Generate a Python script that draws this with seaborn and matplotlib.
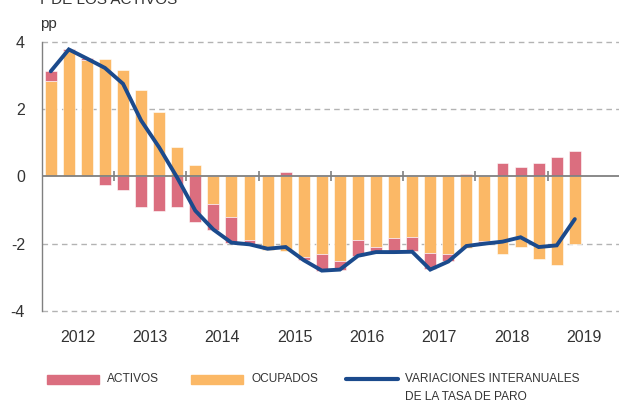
import numpy as np
import pandas as pd
import matplotlib
matplotlib.use("Agg")
import matplotlib.pyplot as plt
import seaborn as sns
from matplotlib.patches import Rectangle
from matplotlib.lines import Line2D

# ---------------- data ----------------
years = ["2012", "2013", "2014", "2015", "2016", "2017", "2018", "2019"]
quarters = [f"{y}-T{q}" for y in years for q in range(1, 5)][:30]

ocupados = [2.84, 3.72, 3.47, 3.49, 3.15, 2.58, 1.90, 0.88,
            0.34, -0.83, -1.20, -1.90, -2.20, -2.23, -2.39, -2.31,
            -2.52, -1.89, -2.11, -1.82, -1.80, -2.27, -2.30, -2.14,
            -1.92, -2.32, -2.09, -2.47, -2.62, -2.00]
activos = [0.28, 0.05, 0.04, -0.27, -0.42, -0.92, -1.04, -0.92,
           -1.36, -0.75, -0.77, -0.12, 0.05, 0.13, -0.10, -0.50,
           -0.25, -0.47, -0.12, -0.41, -0.43, -0.49, -0.22, 0.08,
           -0.07, 0.39, 0.28, 0.39, 0.57, 0.74]
tasa_paro = [3.12, 3.77, 3.50, 3.22, 2.75, 1.66, 0.86, -0.04,
             -1.02, -1.58, -1.97, -2.02, -2.15, -2.10, -2.49, -2.80,
             -2.77, -2.36, -2.25, -2.25, -2.24, -2.77, -2.53, -2.07,
             -2.00, -1.94, -1.81, -2.10, -2.05, -1.27]

C_ACT = "#DB6E7F"
C_OCU = "#FBB866"
C_LINE = "#1B4A8C"
C_TXT = "#333333"
C_GRID = "#B3B3B3"

sns.set_theme(style="white")
plt.rcParams["font.family"] = ["Liberation Sans", "DejaVu Sans"]

df = pd.DataFrame({"q": quarters, "ocupados": ocupados,
                   "activos": activos, "paro": tasa_paro})
df["pos"] = np.arange(len(df))
same_sign = np.sign(df["activos"]) == np.sign(df["ocupados"])
df["act_bottom"] = np.where(same_sign, df["ocupados"], 0.0)

fig = plt.figure(figsize=(6.19, 4.03), dpi=100)
ax = fig.add_axes([41.7 / 619, 1 - 311 / 403, 578.3 / 619, 269.3 / 403])

# grid lines (behind)
for yv in [-4, -2, 2, 4]:
    ax.axhline(yv, color=C_GRID, lw=1.0, ls=(0, (4, 3)), zorder=0, clip_on=False)

BW = 0.66
sns.barplot(data=df, x="pos", y="ocupados", native_scale=True, width=BW,
            color=C_OCU, saturation=1, edgecolor="white", linewidth=0.4,
            ax=ax, zorder=2, errorbar=None)
ax.bar(df["pos"], df["activos"], bottom=df["act_bottom"], width=BW,
       color=C_ACT, edgecolor="white", linewidth=0.4, zorder=2)

# zero line and year separators
ax.axhline(0, color="#808080", lw=1.3, zorder=3)
ny = len(years)
bounds = np.arange(1, ny) * 4 - 0.5
ax.vlines(bounds, -0.15, 0.15, color="#808080", lw=1.2, zorder=3)

sns.lineplot(data=df, x="pos", y="paro", color=C_LINE, lw=2.8, ax=ax,
             zorder=4, solid_joinstyle="miter")

ax.set_xlim(-0.5, ny * 4 - 0.5)
ax.set_ylim(-4, 4)
ax.set_xticks(np.arange(ny) * 4 + 1.5)
ax.set_xticklabels(years)
ax.set_yticks([-4, -2, 0, 2, 4])
ax.set_yticklabels(["-4", "-2", "0", "2", "4"])
ax.tick_params(axis="both", length=0, labelsize=11.5, labelcolor=C_TXT)
ax.tick_params(axis="x", pad=14)
ax.tick_params(axis="y", pad=12)
ax.set_xlabel("")
ax.set_ylabel("")
for s in ["top", "right", "bottom"]:
    ax.spines[s].set_visible(False)
ax.spines["left"].set_color("#808080")
ax.spines["left"].set_linewidth(1.0)
ax.set_facecolor("none")

# texts
fig.text(37 / 619, 1 - 4 / 403, "Y DE LOS ACTIVOS", fontsize=11, color=C_TXT,
         ha="left", va="baseline")
fig.text(40.5 / 619, 1 - 28 / 403, "pp", fontsize=11, color=C_TXT,
         ha="left", va="baseline")

# legend (manual layout)
W, H = 619, 403
yc = 379
LFS = 8.6
fig.patches.append(Rectangle((46.5 / W, 1 - (yc + 4.5) / H), 52 / W, 9 / H,
                             transform=fig.transFigure, color=C_ACT))
fig.text(106.5 / W, 1 - yc / H, "ACTIVOS", fontsize=LFS, color=C_TXT,
         ha="left", va="center")
fig.patches.append(Rectangle((190.5 / W, 1 - (yc + 4.5) / H), 52 / W, 9 / H,
                             transform=fig.transFigure, color=C_OCU))
fig.text(251 / W, 1 - yc / H, "OCUPADOS", fontsize=LFS, color=C_TXT,
         ha="left", va="center")
fig.lines.append(Line2D([345.5 / W, 397.5 / W], [1 - yc / H, 1 - yc / H],
                        transform=fig.transFigure, color=C_LINE, lw=3))
fig.text(405 / W, 1 - yc / H, "VARIACIONES INTERANUALES", fontsize=LFS,
         color=C_TXT, ha="left", va="center")
fig.text(405 / W, 1 - 397 / H, "DE LA TASA DE PARO", fontsize=LFS,
         color=C_TXT, ha="left", va="center")

fig.savefig("out.png", dpi=100)
